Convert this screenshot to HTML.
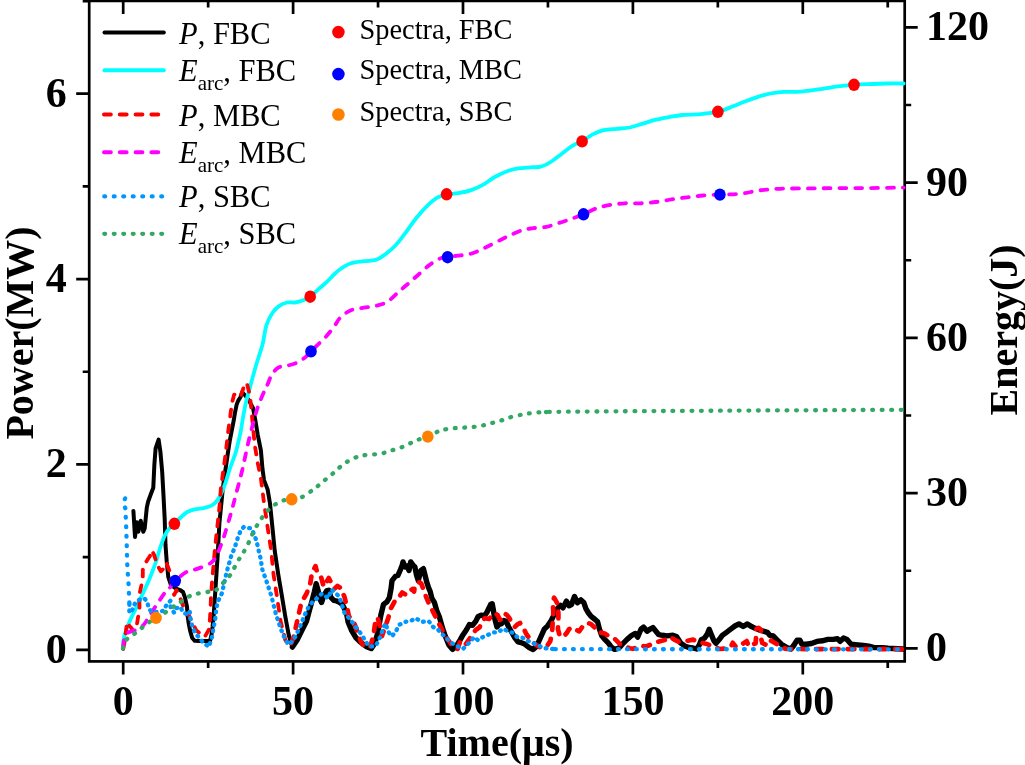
<!DOCTYPE html>
<html><head><meta charset="utf-8"><style>
html,body{margin:0;padding:0;background:#fff;}
svg{display:block;will-change:transform;}
</style></head><body>
<svg width="1025" height="765" viewBox="0 0 1025 765">
<rect width="1025" height="765" fill="#fff"/>

<path d="M123.20 661.4V674.4 M123.20 0.9V13.9 M208.15 661.4V667.9 M208.15 0.9V7.4 M293.10 661.4V674.4 M293.10 0.9V13.9 M378.05 661.4V667.9 M378.05 0.9V7.4 M463.00 661.4V674.4 M463.00 0.9V13.9 M547.95 661.4V667.9 M547.95 0.9V7.4 M632.90 661.4V674.4 M632.90 0.9V13.9 M717.85 661.4V667.9 M717.85 0.9V7.4 M802.80 661.4V674.4 M802.80 0.9V13.9 M887.75 661.4V667.9 M887.75 0.9V7.4 M89.2 649.80H76.2 M89.2 557.12H82.7 M89.2 464.44H76.2 M89.2 371.76H82.7 M89.2 279.08H76.2 M89.2 186.40H82.7 M89.2 93.72H76.2 M89.2 1.04H82.7 M904.7 648.40H917.7 M904.7 570.77H911.2 M904.7 493.15H917.7 M904.7 415.52H911.2 M904.7 337.90H917.7 M904.7 260.27H911.2 M904.7 182.65H917.7 M904.7 105.02H911.2 M904.7 27.40H917.7" stroke="#000" stroke-width="2.7" fill="none"/>
<rect x="89.2" y="0.9" width="815.5" height="660.5" stroke="#000" stroke-width="2.7" fill="none"/>
<g font-family="Liberation Serif" font-weight="bold" font-size="42" fill="#000"><text x="123.2" y="715.3" text-anchor="middle">0</text><text x="293.1" y="715.3" text-anchor="middle">50</text><text x="463.0" y="715.3" text-anchor="middle">100</text><text x="632.9" y="715.3" text-anchor="middle">150</text><text x="802.8" y="715.3" text-anchor="middle">200</text><text x="66.8" y="662.7" text-anchor="end">0</text><text x="66.8" y="477.3" text-anchor="end">2</text><text x="66.8" y="292.0" text-anchor="end">4</text><text x="66.8" y="106.6" text-anchor="end">6</text><text x="926" y="661.3" text-anchor="start">0</text><text x="926" y="506.0" text-anchor="start">30</text><text x="926" y="350.8" text-anchor="start">60</text><text x="926" y="195.5" text-anchor="start">90</text><text x="926" y="40.3" text-anchor="start">120</text></g>
<g font-family="Liberation Serif" font-weight="bold" font-size="40" fill="#000">
<text x="497" y="756" text-anchor="middle">Time(μs)</text>
<text transform="translate(32.5,333) rotate(-90)" text-anchor="middle">Power(MW)</text>
<text transform="translate(1016.8,330) rotate(-90)" text-anchor="middle">Energy(J)</text>
</g>
<g fill="none" stroke-linejoin="round" stroke-linecap="round">
<path d="M133.4 510.9 L135.0 537.0 L136.8 522.3 L138.4 531.7 L140.7 520.7 L143.3 531.7 L144.7 528.5 L146.8 507.6 L148.1 501.8 L150.9 494.0 L153.3 487.7 L154.4 464.2 L155.6 448.5 L158.6 439.6 L160.4 451.7 L162.2 472.1 L163.5 495.6 L164.7 519.1 L165.5 545.0 L166.7 561.4 L168.3 577.1 L171.0 585.0 L175.0 588.0 L180.0 590.0 L183.0 592.0 L184.9 597.2 L187.0 606.6 L187.5 615.0 L188.5 622.3 L190.1 630.6 L192.2 638.0 L194.8 640.8 L200.0 641.0 L206.0 641.0 L210.0 641.1 L211.5 634.8 L212.6 626.4 L213.6 616.0 L214.6 601.4 L215.7 585.7 L216.7 570.0 L217.6 556.7 L219.4 523.3 L221.2 505.0 L222.6 490.6 L224.4 476.5 L226.2 464.7 L227.9 452.9 L229.7 441.2 L231.5 431.8 L233.8 420.0 L235.0 412.6 L236.6 404.8 L238.1 400.9 L240.5 397.0 L242.1 392.3 L245.2 395.4 L249.1 400.9 L253.0 407.9 L255.4 420.5 L257.7 434.6 L260.9 450.3 L262.5 469.1 L264.0 480.1 L267.6 489.4 L270.0 503.5 L272.4 527.1 L274.7 550.6 L278.2 574.1 L281.8 595.3 L285.3 616.5 L288.8 635.3 L292.4 647.1" stroke="#000" stroke-width="4.0"/>
<path d="M292.4 647.1 L297.1 640.0 L302.9 628.2 L306.5 621.2 L309.4 610.4 L312.2 600.3 L314.4 591.7 L316.2 583.7 L318.0 590.2 L320.1 599.6 L321.6 602.4 L323.7 596.0 L326.6 590.9 L328.8 590.2 L330.9 597.4 L333.8 600.3 L336.7 601.0 L339.6 602.4 L342.4 604.6 L344.6 608.9 L346.8 614.7 L348.1 621.9 L351.7 630.6 L356.0 637.8 L360.4 642.1 L366.1 646.4 L371.2 648.6 L374.7 643.5 L377.6 633.5 L380.9 615.0 L383.5 604.4 L386.9 601.8 L389.4 597.6 L391.1 588.2 L392.0 580.6 L395.4 576.3 L397.9 575.5 L400.5 569.5 L402.2 565.3 L403.0 561.9 L405.2 567.0 L407.3 566.1 L409.0 570.4 L410.7 561.9 L413.2 565.3 L414.9 567.0 L416.6 575.5 L418.3 580.6 L420.0 573.8 L420.9 570.4 L423.4 568.7 L425.1 575.5 L426.8 582.3 L428.5 587.4 L430.2 591.6 L431.9 598.4 L434.5 602.7 L436.7 610.4 L439.6 617.6 L442.4 627.7 L445.3 636.3 L448.9 645.0 L452.5 649.3 L456.1 646.4 L460.0 640.2 L463.1 634.7 L466.3 630.0 L469.4 624.5 L472.5 625.3 L475.7 621.4 L478.0 616.7 L481.2 615.1 L484.3 615.9 L486.7 612.7 L489.0 608.0 L490.6 604.5 L492.2 603.7 L493.3 609.6 L494.5 617.5 L496.9 626.9 L499.2 624.5 L501.6 623.7 L503.9 620.6 L506.3 621.4 L508.6 626.9 L511.8 632.4 L514.9 637.8 L518.0 641.8 L520.1 642.3 L524.0 643.7 L529.2 647.6 L533.1 649.5 L536.7 646.2 L540.1 638.5 L544.3 629.2 L547.7 625.8 L551.1 620.7 L554.5 613.9 L557.9 607.9 L560.5 605.4 L563.0 607.9 L566.4 601.1 L569.0 605.8 L571.5 604.5 L574.5 596.5 L577.5 602.8 L580.9 599.9 L583.9 602.8 L586.0 608.8 L588.5 613.0 L591.1 616.4 L594.5 619.0 L597.6 621.8 L599.4 628.8 L601.8 635.9 L604.7 639.4 L608.2 642.9 L611.8 647.6 L614.7 649.4 L618.8 648.2 L622.4 644.1 L627.1 639.4 L631.8 635.3 L635.3 633.5 L637.6 637.1 L641.2 628.8 L643.5 627.1 L647.1 631.2 L650.6 628.8 L652.9 627.6 L655.9 631.2 L658.8 634.7 L662.4 635.3 L667.1 635.9 L672.9 635.3 L676.5 636.5 L680.5 642.8 L684.6 645.9 L688.8 647.5 L693.0 648.0 L696.7 649.0 L699.3 644.9 L701.4 639.6 L704.5 638.1 L707.1 634.4 L709.2 629.2 L711.3 634.4 L713.9 640.7 L716.0 643.3 L719.2 639.6 L722.3 635.4 L726.5 632.3 L730.7 629.2 L734.9 626.0 L739.0 623.9 L743.2 626.5 L747.4 623.9 L750.5 626.0 L754.7 628.1 L760.0 630.2 L764.1 631.3 L767.3 632.3 L770.0 635.4 L773.2 636.0 L777.3 640.1 L781.4 644.2 L786.9 647.6 L791.0 649.0 L793.7 645.5 L797.1 640.1 L799.8 640.1 L801.9 644.2 L806.0 644.2 L811.4 643.5 L816.9 641.4 L822.4 640.8 L827.8 639.4 L833.3 639.4 L837.4 638.7 L840.1 641.4 L843.6 638.0 L847.0 639.4 L851.1 644.2 L857.9 644.9 L863.4 645.5 L868.8 646.2 L874.3 647.6 L882.5 647.6 L888.0 648.3 L903.0 649.0" stroke="#000" stroke-width="5.4"/>
<path d="M123.0 649.0 C123.1 647.5 123.1 642.8 123.5 640.0 C123.9 637.2 124.3 635.4 125.5 632.0 C126.7 628.6 128.6 623.7 130.4 619.6 C132.2 615.5 134.5 611.6 136.6 607.2 C138.7 602.9 140.7 598.0 142.8 593.5 C144.9 589.0 146.9 584.9 149.0 579.9 C151.1 574.9 153.4 569.2 155.3 563.7 C157.2 558.2 158.8 551.8 160.4 547.0 C162.0 542.2 163.5 538.0 165.1 534.8 C166.7 531.6 168.2 529.5 169.8 527.7 C171.4 525.9 172.7 525.5 174.5 523.8 C176.3 522.1 178.6 519.5 180.7 517.5 C182.8 515.5 184.9 513.4 187.0 512.1 C189.1 510.8 191.5 510.2 193.3 509.7 C195.1 509.2 196.2 509.2 198.0 508.9 C199.8 508.6 202.2 508.3 204.4 507.8 C206.6 507.3 209.0 506.8 210.9 505.9 C212.8 505.0 214.2 503.8 215.6 502.4 C217.0 501.0 217.9 499.6 219.1 497.6 C220.3 495.6 221.5 493.1 222.6 490.6 C223.7 488.1 224.6 485.3 225.6 482.4 C226.6 479.4 227.4 476.2 228.5 472.9 C229.6 469.6 230.9 465.7 232.1 462.4 C233.3 459.1 234.5 456.4 235.6 452.9 C236.7 449.4 237.6 444.9 238.5 441.2 C239.4 437.5 240.2 434.1 240.9 430.6 C241.6 427.1 241.8 424.6 242.6 420.0 C243.4 415.4 244.7 408.2 245.9 402.7 C247.2 397.2 248.7 392.2 250.1 387.0 C251.5 381.8 252.9 376.3 254.3 371.4 C255.7 366.5 257.0 362.3 258.4 357.8 C259.8 353.3 261.2 349.7 262.6 344.2 C264.0 338.7 264.9 330.2 266.5 325.0 C268.1 319.8 270.3 316.2 272.4 313.0 C274.5 309.8 276.8 307.6 279.2 305.9 C281.6 304.1 284.5 303.1 287.1 302.5 C289.7 301.9 292.3 302.8 294.9 302.5 C297.5 302.2 300.1 301.6 302.7 300.6 C305.2 299.6 307.6 298.6 310.2 296.7 C312.8 294.8 315.7 291.6 318.4 289.2 C321.1 286.8 323.7 284.8 326.3 282.4 C328.9 279.9 331.7 276.7 334.1 274.5 C336.5 272.3 337.7 270.9 340.5 269.0 C343.3 267.1 347.0 264.6 350.9 263.3 C354.8 262.0 359.9 261.8 364.0 261.2 C368.1 260.6 372.3 261.0 375.8 259.9 C379.3 258.8 381.6 257.0 384.9 254.6 C388.2 252.2 391.9 249.2 395.4 245.5 C398.9 241.8 402.3 237.0 405.8 232.4 C409.3 227.8 412.8 222.3 416.3 218.0 C419.8 213.7 423.2 209.7 426.7 206.3 C430.2 202.9 433.9 199.6 437.2 197.6 C440.5 195.6 442.8 195.2 446.3 194.5 C449.8 193.8 454.0 193.9 458.1 193.2 C462.2 192.5 466.9 191.6 471.2 190.1 C475.5 188.6 480.3 186.3 484.2 184.1 C488.1 181.9 490.8 179.2 494.7 177.0 C498.6 174.8 503.9 172.4 507.8 171.0 C511.7 169.6 514.4 169.0 518.2 168.4 C522.0 167.8 526.7 167.6 530.5 167.3 C534.3 167.0 537.4 167.7 540.9 166.7 C544.4 165.7 547.9 163.7 551.4 161.5 C554.9 159.3 558.3 156.3 561.8 153.7 C565.3 151.1 568.9 147.9 572.3 145.8 C575.7 143.7 578.5 143.1 582.0 141.1 C585.5 139.1 589.6 135.9 593.2 134.1 C596.8 132.3 599.8 131.0 603.7 130.1 C607.6 129.2 612.4 129.2 616.7 128.8 C621.1 128.4 625.4 128.4 629.8 127.5 C634.2 126.6 638.5 124.9 642.9 123.6 C647.2 122.3 651.5 120.8 655.9 119.7 C660.2 118.6 664.6 117.9 669.0 117.1 C673.4 116.3 677.3 115.5 682.1 115.0 C686.9 114.5 693.4 114.7 697.8 114.4 C702.1 114.1 704.8 113.5 708.2 113.1 C711.6 112.7 714.3 112.8 718.1 111.8 C721.9 110.8 726.8 108.8 731.1 107.1 C735.5 105.4 739.8 103.5 744.2 101.8 C748.6 100.1 752.9 98.5 757.3 97.1 C761.7 95.7 766.0 94.4 770.4 93.5 C774.8 92.6 779.0 92.2 783.4 91.9 C787.8 91.6 792.1 92.1 796.5 91.9 C800.9 91.7 805.2 91.1 809.6 90.6 C814.0 90.1 818.2 89.4 822.6 88.8 C827.0 88.2 830.5 87.4 835.7 86.7 C840.9 86.0 848.8 85.2 854.0 84.8 C859.2 84.4 861.4 84.3 867.1 84.1 C872.8 83.9 881.9 83.6 888.0 83.5 C894.1 83.4 901.1 83.5 903.7 83.5" stroke="#00ffff" stroke-width="3.8"/>
<path d="M123.2 649.0 L125.0 640.0 L127.0 622.0 L129.5 626.0 L131.4 628.0 L133.0 631.0 L136.3 628.0 L137.9 618.3 L139.5 608.5 L139.3 594.9 L141.7 583.9 L142.8 578.4 L142.8 569.8 L145.2 563.5 L147.5 559.6 L150.0 556.0 L151.5 550.2 L153.8 554.1 L157.7 565.9 L160.9 571.3 L163.2 569.0 L166.3 562.7 L167.9 566.6 L170.3 572.9 L171.1 577.6 L171.8 590.2 L174.2 594.9 L176.5 590.2 L178.9 594.9 L180.0 597.5 L184.0 608.5 L188.7 614.8 L192.2 622.3 L196.4 630.6 L200.5 633.8 L204.7 637.0 L208.9 629.6 L210.0 618.1 L210.5 609.7 L211.0 596.1 L212.0 582.5 L213.1 570.0 L215.0 548.0 L217.2 527.8 L219.4 507.8 L220.9 487.9 L224.0 466.0 L226.4 447.2 L228.0 433.0 L230.3 415.8 L231.9 403.2 L234.2 394.6 L237.4 394.6 L240.5 397.0 L243.6 387.5 L246.8 382.8 L249.9 395.4 L251.5 411.1 L253.0 426.8 L254.6 444.0 L257.7 462.8 L260.9 478.5 L264.1 503.5 L267.6 527.1 L271.2 550.6 L273.5 574.1 L277.1 597.6 L280.6 621.2 L285.3 640.0 L290.0 645.9" stroke="#ff0000" stroke-width="3.8" stroke-dasharray="6.8 9"/>
<path d="M290.0 645.9 L293.5 637.6 L298.2 616.5 L301.4 602.4 L306.5 593.8 L310.1 584.5 L311.9 573.0 L315.5 566.1 L317.3 573.0 L320.9 576.5 L323.7 586.6 L328.8 578.0 L331.7 583.7 L334.5 588.8 L337.4 585.9 L341.7 588.8 L343.2 593.8 L344.6 597.4 L346.0 603.2 L347.5 608.9 L348.8 616.2 L353.2 620.5 L356.0 627.7 L358.9 636.3 L361.8 643.5 L366.1 647.8 L370.4 646.4 L373.3 636.3 L375.5 620.5 L377.6 617.6 L380.5 627.7 L381.9 636.3 L384.8 627.7 L388.4 617.6 L390.3 609.5 L395.4 600.1 L398.8 597.6 L402.2 592.5 L406.4 595.0 L409.0 591.6 L412.4 589.1 L414.1 591.6 L414.9 584.8 L419.2 582.3 L421.3 583.6 L423.4 589.1 L426.0 596.7 L428.5 602.7 L431.1 607.8 L433.6 612.9 L438.8 623.4 L443.2 632.0 L447.5 639.2 L451.8 645.0 L457.6 649.3 L460.0 641.8 L464.7 645.7 L468.6 640.2 L471.8 635.5 L475.7 630.0 L479.6 627.3 L482.0 620.6 L485.1 618.2 L489.0 619.0 L492.2 615.1 L495.3 613.1 L497.6 615.1 L500.0 619.8 L502.4 618.2 L504.7 613.5 L507.1 615.1 L509.4 618.2 L512.5 623.7 L514.9 626.9 L517.3 624.5 L520.0 622.9 L523.3 628.0 L526.6 634.5 L530.5 639.7 L534.4 643.7 L538.4 646.3 L541.0 647.6 L544.9 646.3 L546.9 646.2 L550.3 641.1 L552.0 632.6 L552.4 627.5 L552.8 619.0 L553.3 612.2 L552.8 602.0 L554.1 597.7 L557.9 604.5 L558.4 613.9 L558.4 620.7 L557.9 629.2 L559.6 635.1 L563.0 637.3 L566.4 633.4 L569.0 629.2 L571.5 627.5 L574.9 629.2 L579.2 631.3 L582.6 626.6 L587.7 622.8 L591.1 624.1 L594.5 627.5 L595.3 630.0 L600.0 632.4 L604.7 633.5 L609.4 636.5 L615.3 639.4 L620.0 644.1 L624.7 645.9 L629.4 648.2 L632.9 648.8 L637.6 647.1 L642.4 645.9 L645.9 646.5 L650.6 644.7 L655.3 642.4 L660.0 641.2 L664.7 640.0 L670.0 637.0 L674.2 639.6 L678.4 641.7 L682.6 641.2 L687.8 640.7 L693.0 639.6 L697.2 641.7 L701.4 642.8 L707.7 644.3 L713.9 646.9 L719.2 649.0 L726.5 648.5 L730.7 646.9 L732.8 642.8 L735.9 646.9 L741.1 644.9 L746.7 641.1 L748.9 646.4 L755.6 643.3 L756.1 636.7 L756.3 629.0 L758.5 627.8 L760.8 629.6 L761.0 638.0 L762.2 642.9 L768.4 646.0 L771.1 640.7 L776.9 644.2 L781.4 647.6 L786.9 649.0 L903.0 649.2" stroke="#ff0000" stroke-width="4.7" stroke-dasharray="6.8 9" stroke-dashoffset="786.93"/>
<path d="M123.0 647.0 C123.2 645.8 123.6 641.6 124.2 639.5 C124.8 637.4 126.0 635.4 126.8 634.1 C127.6 632.9 127.6 632.8 129.2 632.0 C130.8 631.2 134.2 630.8 136.6 629.6 C139.0 628.4 141.4 627.2 143.5 625.0 C145.6 622.8 146.7 620.1 149.0 616.5 C151.3 612.9 154.8 607.5 157.5 603.5 C160.2 599.5 163.1 595.0 165.2 592.3 C167.3 589.6 168.6 589.1 170.2 587.3 C171.8 585.4 172.3 583.7 175.0 581.2 C177.7 578.7 182.4 574.2 186.1 572.2 C189.8 570.2 193.5 570.2 197.2 568.9 C200.9 567.6 205.7 565.7 208.3 564.4 C210.9 563.1 211.5 562.7 213.0 561.0 C214.5 559.3 215.4 558.4 217.2 554.4 C219.0 550.4 221.7 543.4 223.9 536.7 C226.1 530.0 228.6 521.4 230.6 514.4 C232.6 507.4 233.9 502.3 235.8 495.0 C237.7 487.7 240.0 479.4 242.1 470.7 C244.2 461.9 246.1 451.7 248.3 442.5 C250.5 433.3 253.4 421.9 255.3 415.3 C257.2 408.7 257.9 406.9 259.5 402.7 C261.1 398.5 263.4 393.2 264.7 390.2 C266.0 387.2 266.3 387.1 267.5 384.5 C268.7 381.9 270.2 377.3 272.0 374.5 C273.8 371.7 275.7 369.1 278.2 367.6 C280.7 366.1 284.0 366.5 287.1 365.7 C290.2 364.9 294.0 364.0 296.9 362.7 C299.8 361.4 302.3 359.7 304.7 357.8 C307.1 355.9 308.7 353.7 311.0 351.4 C313.3 349.1 315.8 346.6 318.4 344.1 C320.9 341.6 323.7 339.2 326.3 336.3 C328.9 333.4 331.7 329.6 334.1 326.5 C336.5 323.4 337.7 320.1 340.5 317.4 C343.3 314.7 347.0 311.9 350.9 310.3 C354.8 308.7 359.6 308.5 364.0 307.7 C368.4 306.9 373.2 306.6 377.1 305.6 C381.0 304.6 384.0 303.9 387.5 301.7 C391.0 299.5 394.5 295.6 398.0 292.5 C401.5 289.4 404.9 286.4 408.4 283.4 C411.9 280.3 415.4 277.2 418.9 274.2 C422.4 271.1 425.8 267.7 429.3 265.1 C432.8 262.5 436.8 260.0 439.8 258.6 C442.9 257.2 444.1 257.2 447.6 256.7 C451.1 256.2 456.6 256.0 460.7 255.4 C464.8 254.8 468.6 254.5 472.5 253.3 C476.4 252.1 480.1 250.1 484.2 248.1 C488.3 246.1 492.9 243.8 497.3 241.6 C501.7 239.4 506.0 237.0 510.4 235.0 C514.8 233.0 519.7 230.9 523.5 229.8 C527.3 228.7 529.3 228.7 533.1 228.2 C536.9 227.7 541.8 227.8 546.1 226.9 C550.5 226.0 554.8 224.3 559.2 222.9 C563.6 221.5 568.2 219.9 572.3 218.5 C576.3 217.1 579.6 216.0 583.5 214.3 C587.4 212.7 591.6 210.1 595.8 208.6 C600.0 207.1 604.1 206.1 608.9 205.2 C613.7 204.3 619.4 203.6 624.6 203.3 C629.8 203.0 635.1 203.5 640.3 203.3 C645.5 203.1 650.7 202.7 655.9 202.0 C661.1 201.3 666.4 200.2 671.6 199.4 C676.8 198.6 682.1 198.0 687.3 197.3 C692.5 196.7 697.6 195.9 703.0 195.5 C708.4 195.1 715.2 194.8 719.9 194.6 C724.6 194.4 727.0 194.6 731.1 194.4 C735.2 194.2 739.8 193.9 744.2 193.3 C748.6 192.7 752.9 191.3 757.3 190.7 C761.7 190.0 766.0 189.8 770.4 189.4 C774.8 189.1 776.9 188.8 783.4 188.6 C789.9 188.4 800.9 188.5 809.6 188.4 C818.3 188.3 827.0 188.2 835.7 188.1 C844.4 188.0 853.2 188.1 861.9 188.1 C870.6 188.1 881.0 187.9 888.0 187.8 C895.0 187.7 901.1 187.6 903.7 187.6" stroke="#ff00ff" stroke-width="3.8" stroke-dasharray="6.8 9"/>
<path d="M125.1 498.4 L123.6 502.8 L125.5 509.0 L125.8 518.8 L126.2 527.9 L126.5 537.1 L127.3 565.6 L128.6 584.8 L129.4 604.1" stroke="#0096ff" stroke-width="4.3" stroke-dasharray="0.8 8.7"/>
<path d="M129.4 604.1 L129.3 613.0 L132.5 609.6 L135.2 602.8 L140.0 599.3 L144.6 598.6 L147.2 601.7 L148.8 608.5 L151.9 612.2 L156.0 612.0 L160.0 611.5 L163.4 610.8 L166.5 605.0 L170.4 600.8 L170.6 607.2 L174.0 612.5 L175.1 608.4 L181.0 607.2 L182.2 611.5 L185.9 613.9 L187.5 611.0 L189.8 612.0 L190.5 619.0 L192.7 628.0 L195.8 633.8 L199.5 638.0 L203.2 642.6 L208.9 646.8 L212.0 636.9 L213.6 627.5 L215.2 619.1 L216.2 609.7 L217.3 603.4 L219.4 598.2 L222.0 593.0 L224.1 583.6 L227.2 570.0 L229.5 562.0 L231.4 555.1 L234.7 547.9 L236.6 541.3 L238.6 535.4 L240.6 530.9 L243.8 527.0 L247.8 528.0 L251.1 528.3 L253.2 532.3 L255.3 537.5 L257.4 544.8 L259.0 552.2 L260.6 558.4 L262.3 569.4 L266.5 581.2 L271.2 595.3 L275.9 614.1 L280.6 628.2 L285.3 640.0 L288.8 644.7 L293.5 640.0 L299.4 628.2 L305.8 612.5 L308.6 606.8 L312.2 602.4 L316.5 598.8 L321.6 593.8 L325.2 596.0 L328.1 598.1 L330.2 593.1 L331.7 589.5 L335.3 593.1 L338.8 596.0 L341.0 601.7 L343.2 608.9 L344.6 613.2 L347.4 616.2 L353.2 623.4 L357.5 629.1 L361.8 634.9 L366.1 642.1 L369.0 646.4 L373.3 646.4 L376.2 645.0 L380.5 636.3 L383.4 627.7 L385.5 623.4 L388.4 632.0 L392.0 636.3 L396.3 630.6 L399.2 624.8 L405.0 621.9 L411.5 620.5 L415.8 618.3 L421.6 621.9 L428.8 621.2 L433.1 627.0 L437.4 629.1 L441.7 633.5 L446.0 637.8 L450.4 642.1 L456.1 645.7 L463.1 648.8 L469.4 642.5 L474.1 637.1 L478.0 640.2 L482.7 637.1 L488.2 634.7 L493.7 632.4 L498.4 632.0 L503.1 628.8 L507.8 631.2 L512.5 632.7 L517.3 637.1 L522.7 637.8 L527.9 641.0 L533.1 643.0 L538.4 645.6 L544.9 648.2 L555.0 649.2" stroke="#0096ff" stroke-width="4.3" stroke-dasharray="0.8 5.6"/>
<path d="M555.0 649.2 L903.0 649.3" stroke="#0096ff" stroke-width="4.3" stroke-dasharray="0.8 8.2"/>
<path d="M123.0 648.2 C123.6 646.8 125.0 641.8 126.7 639.5 C128.4 637.2 131.2 636.3 133.5 634.5 C135.8 632.7 138.1 630.6 140.4 628.9 C142.7 627.1 144.7 626.0 147.2 624.0 C149.7 622.0 152.8 618.6 155.3 617.1 C157.8 615.6 159.8 615.9 162.1 614.7 C164.4 613.5 166.5 611.4 168.9 609.7 C171.3 608.0 174.2 606.2 176.4 604.7 C178.6 603.2 179.6 602.5 182.0 601.0 C184.4 599.5 187.9 596.9 190.6 595.6 C193.3 594.4 195.4 594.1 198.0 593.5 C200.6 592.9 203.8 592.6 206.1 592.2 C208.4 591.8 210.3 591.4 212.0 591.0 C213.7 590.6 214.3 591.3 216.1 590.0 C217.9 588.7 220.4 585.9 222.8 583.3 C225.2 580.7 228.2 577.9 230.6 574.4 C233.0 570.9 235.2 565.7 237.0 562.5 C238.8 559.3 240.2 557.7 241.7 555.3 C243.2 552.9 244.5 550.6 245.9 548.0 C247.3 545.4 248.9 542.2 250.1 539.6 C251.3 537.0 251.9 534.9 253.2 532.3 C254.5 529.7 256.3 526.6 258.0 523.9 C259.7 521.2 261.2 518.7 263.2 516.1 C265.2 513.5 267.7 510.3 270.0 508.2 C272.3 506.1 274.5 504.8 276.8 503.5 C279.1 502.2 281.1 501.1 283.6 500.4 C286.1 499.7 288.9 499.8 291.9 499.3 C294.9 498.8 297.9 499.0 301.5 497.3 C305.1 495.6 310.4 491.6 313.5 489.4 C316.6 487.2 317.8 486.0 320.0 484.2 C322.2 482.4 324.7 480.2 327.0 478.3 C329.3 476.4 331.9 474.4 334.0 472.5 C336.1 470.6 337.8 468.9 339.9 467.1 C342.0 465.3 344.4 463.5 346.9 461.9 C349.4 460.3 352.6 458.8 355.1 457.7 C357.6 456.6 359.4 456.1 362.1 455.6 C364.8 455.1 368.4 454.8 371.5 454.5 C374.6 454.2 378.2 454.3 380.9 453.8 C383.6 453.3 385.6 452.1 387.9 451.4 C390.2 450.7 392.6 450.2 394.9 449.5 C397.2 448.8 399.5 448.1 401.9 447.2 C404.2 446.3 406.6 445.0 409.0 443.9 C411.4 442.8 412.9 441.6 416.0 440.4 C419.1 439.2 423.8 438.3 427.7 436.7 C431.6 435.1 436.3 432.1 439.4 430.8 C442.5 429.6 443.7 429.7 446.4 429.2 C449.1 428.7 452.7 428.3 455.8 428.0 C458.9 427.7 462.1 427.7 465.2 427.5 C468.3 427.3 471.4 427.2 474.5 426.8 C477.6 426.4 481.2 425.8 483.9 425.2 C486.6 424.6 488.6 423.9 490.9 423.3 C493.2 422.7 495.5 422.1 497.9 421.4 C500.2 420.7 502.6 420.1 505.0 419.3 C507.4 418.5 509.3 417.6 512.0 416.8 C514.7 416.0 518.7 415.2 521.4 414.7 C524.1 414.1 525.7 413.9 528.4 413.5 C531.1 413.1 534.6 412.7 537.7 412.5 C540.8 412.3 544.0 412.2 547.1 412.1 C550.2 412.0 531.0 412.0 556.5 411.8 C582.0 411.6 642.1 411.1 700.0 410.8 C757.9 410.5 869.8 410.0 903.7 409.8" stroke="#33a865" stroke-width="4.3" stroke-dasharray="0.8 8.7"/>
</g>
<ellipse cx="174.4" cy="523.8" rx="5.8" ry="6.2" fill="#ff0000"/>
<ellipse cx="310.2" cy="296.7" rx="5.8" ry="6.2" fill="#ff0000"/>
<ellipse cx="446.6" cy="194.3" rx="5.8" ry="6.2" fill="#ff0000"/>
<ellipse cx="582.1" cy="141.4" rx="5.8" ry="6.2" fill="#ff0000"/>
<ellipse cx="717.9" cy="111.8" rx="5.8" ry="6.2" fill="#ff0000"/>
<ellipse cx="854" cy="84.8" rx="5.8" ry="6.2" fill="#ff0000"/>
<ellipse cx="175.2" cy="581" rx="5.8" ry="6.2" fill="#0000ff"/>
<ellipse cx="311" cy="351.4" rx="5.8" ry="6.2" fill="#0000ff"/>
<ellipse cx="447.6" cy="257.2" rx="5.8" ry="6.2" fill="#0000ff"/>
<ellipse cx="583.5" cy="214.3" rx="5.8" ry="6.2" fill="#0000ff"/>
<ellipse cx="719.9" cy="194.6" rx="5.8" ry="6.2" fill="#0000ff"/>
<ellipse cx="156" cy="617.9" rx="5.8" ry="6.2" fill="#ff8000"/>
<ellipse cx="291.7" cy="499.3" rx="5.8" ry="6.2" fill="#ff8000"/>
<ellipse cx="427.8" cy="436.6" rx="5.8" ry="6.2" fill="#ff8000"/>
<g font-family="Liberation Serif" fill="#000"><path d="M104.5 32.6H163.8" stroke="#000" stroke-width="4" stroke-linecap="round"/><text x="179" y="43.9" font-size="30.5"><tspan font-style="italic">P</tspan>, FBC</text><path d="M104.5 70.2H163.8" stroke="#00ffff" stroke-width="4" stroke-linecap="round"/><text x="179" y="80.8" font-size="30.5"><tspan font-style="italic">E</tspan><tspan font-size="21" dy="8.8">arc</tspan><tspan dy="-8.8">, FBC</tspan></text><path d="M104.0 114.4H163.8" stroke="#f00" stroke-width="4" stroke-linecap="round" stroke-dasharray="6.8 9"/><text x="179" y="125.5" font-size="30.5"><tspan font-style="italic">P</tspan>, MBC</text><path d="M104.0 152.3H163.8" stroke="#f0f" stroke-width="4" stroke-linecap="round" stroke-dasharray="6.8 9"/><text x="179" y="163.2" font-size="30.5"><tspan font-style="italic">E</tspan><tspan font-size="21" dy="8.8">arc</tspan><tspan dy="-8.8">, MBC</tspan></text><path d="M104.3 196.4H163.8" stroke="#0096ff" stroke-width="4.3" stroke-linecap="round" stroke-dasharray="0.8 8.7"/><text x="179" y="207.2" font-size="30.5"><tspan font-style="italic">P</tspan>, SBC</text><path d="M104.3 233.8H163.8" stroke="#33a865" stroke-width="4.3" stroke-linecap="round" stroke-dasharray="0.8 8.7"/><text x="179" y="244.1" font-size="30.5"><tspan font-style="italic">E</tspan><tspan font-size="21" dy="8.8">arc</tspan><tspan dy="-8.8">, SBC</tspan></text></g>
<g font-family="Liberation Serif" fill="#000"><circle cx="338.4" cy="32.1" r="6.3" fill="#ff0000"/><text x="359.5" y="39.0" font-size="28.4">Spectra, FBC</text><circle cx="338.4" cy="74.1" r="6.3" fill="#0000ff"/><text x="359.5" y="79.0" font-size="28.4">Spectra, MBC</text><circle cx="338.4" cy="114.5" r="6.3" fill="#ff8000"/><text x="359.5" y="120.6" font-size="28.4">Spectra, SBC</text></g>
</svg></body></html>
